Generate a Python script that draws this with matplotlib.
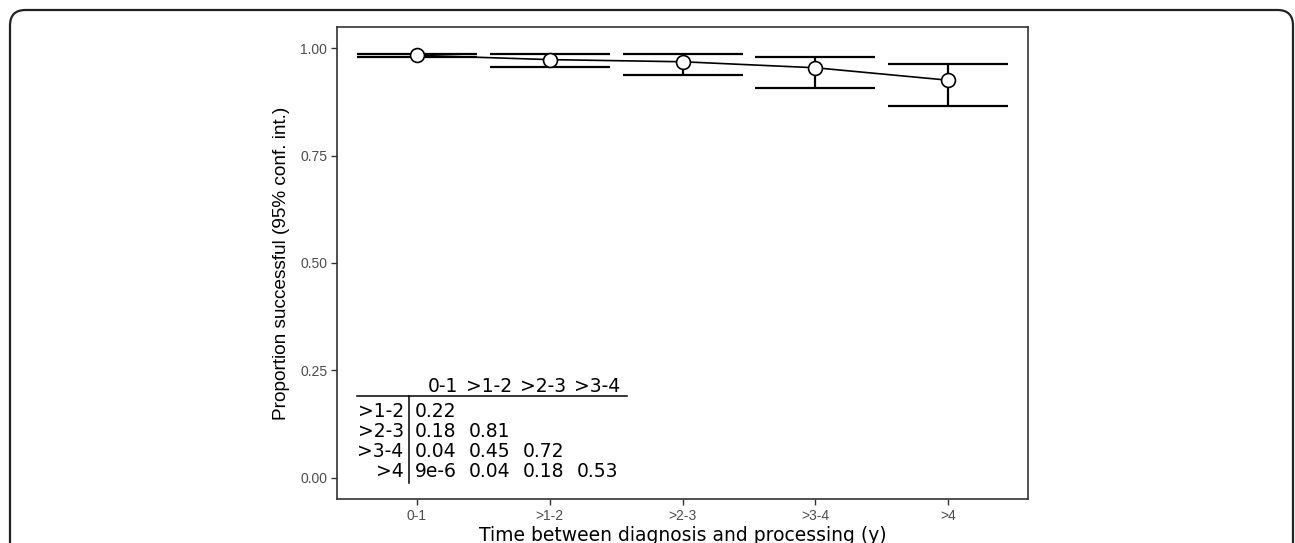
import matplotlib
matplotlib.use("Agg")
import matplotlib.pyplot as plt
from matplotlib.patches import FancyBboxPatch

# data
groups = ["0-1", ">1-2", ">2-3", ">3-4", ">4"]
prop = [0.984, 0.974, 0.969, 0.955, 0.926]
ci_low = [0.981, 0.956, 0.938, 0.907, 0.866]
ci_high = [0.988, 0.986, 0.986, 0.980, 0.963]

# pairwise p-value table
tab_cols = ["0-1", ">1-2", ">2-3", ">3-4"]
tab_rows = [">1-2", ">2-3", ">3-4", ">4"]
tab_vals = [["0.22"],
            ["0.18", "0.81"],
            ["0.04", "0.45", "0.72"],
            ["9e-6", "0.04", "0.18", "0.53"]]

def main():
  W, H = 1295, 543
  fig = plt.figure(figsize=(W / 100, H / 100), dpi=100)

  # journal style rounded frame, cut off at the bottom
  frame = FancyBboxPatch((10 / W, -0.2), (1293 - 10) / W, 1.2 - 10 / H,
                         boxstyle="round,pad=0,rounding_size=0.012",
                         transform=fig.transFigure, fill=False,
                         edgecolor="#222222", linewidth=1.6, mutation_aspect=W / H)
  fig.patches.append(frame)

  ax = fig.add_axes([337 / W, (H - 499) / H, 691 / W, 472 / H])
  x = list(range(1, len(groups) + 1))

  ax.errorbar(x, prop, yerr=[[p - l for p, l in zip(prop, ci_low)],
                             [h - p for p, h in zip(prop, ci_high)]],
              fmt="none", ecolor="black", elinewidth=1.6, capsize=43, capthick=1.6, zorder=2)
  ax.plot(x, prop, color="black", lw=1.2, zorder=3)
  ax.plot(x, prop, "o", ms=10, mfc="white", mec="black", mew=1.2, zorder=4)

  ax.set_xlim(0.4, 5.6)
  ax.set_ylim(-0.05, 1.05)
  ax.set_xticks(x)
  ax.set_xticklabels(groups)
  ax.set_yticks([0, 0.25, 0.5, 0.75, 1.0])
  ax.set_yticklabels(["0.00", "0.25", "0.50", "0.75", "1.00"])
  ax.tick_params(length=4, width=1, color="#333333", labelcolor="#4d4d4d",
                 labelsize=10, pad=3)
  for lab in ax.get_xticklabels() + ax.get_yticklabels():
    lab.set_family("Liberation Sans")
  for s in ax.spines.values():
    s.set_color("#333333")
    s.set_linewidth(1.2)

  ax.set_ylabel("Proportion successful (95% conf. int.)", family="Liberation Sans",
                fontsize=13.7, labelpad=7)
  ax.set_xlabel("Time between diagnosis and processing (y)", family="DejaVu Sans",
                fontsize=13.5, labelpad=2.5)

  # p-value table drawn inside the panel
  fs = 13.5
  col_left = [0.985 + i * 0.406 for i in range(len(tab_cols))]
  head_y = 0.212
  row_y = [0.154 - i * 0.0466 for i in range(len(tab_rows))]
  for c, cx in zip(tab_cols, col_left):
    ax.text(cx + 0.33, head_y, c, ha="right", va="center", fontsize=fs, family="DejaVu Sans")
  for r, ry, vals in zip(tab_rows, row_y, tab_vals):
    ax.text(0.902, ry, r, ha="right", va="center", fontsize=fs, family="DejaVu Sans")
    for v, cx in zip(vals, col_left):
      ax.text(cx, ry, v, ha="left", va="center", fontsize=fs, family="DejaVu Sans")
  ax.plot([0.549, 2.579], [0.189, 0.189], color="black", lw=1.1, clip_on=False)
  ax.plot([0.94, 0.94], [0.189, -0.012], color="black", lw=1.1, clip_on=False)

  fig.savefig("out.png", dpi=100)

if __name__ == "__main__":
  main()
